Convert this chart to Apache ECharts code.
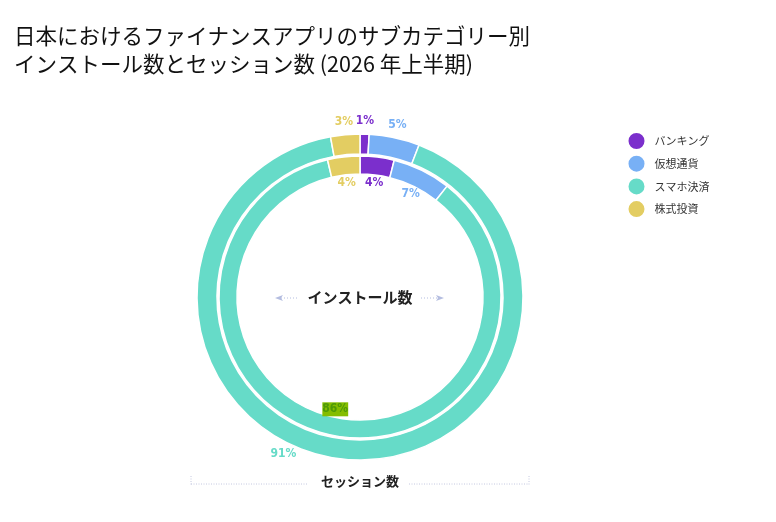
<!DOCTYPE html>
<html style="height: 100%">
<head>
    <meta charset="utf-8">
    <script src="https://cdn.jsdelivr.net/npm/echarts@6/dist/echarts.min.js"></script>
</head>
<body style="height: 100%; margin: 0">
    <div id="main" style="width:776px;height:522px;"></div>
    <script type="text/javascript">
        // データ
        var categories = ['バンキング', '仮想通貨', 'スマホ決済', '株式投資'];
        var installs = [3.9, 6.7, 85.7, 3.7];   // 内側リング
        var sessions = [0.9, 5.0, 91.2, 2.9];   // 外側リング
        var colors = ['#7b2fcc', '#78b0f5', '#66dbc8', '#e3cd62'];

        var cx = 360, cy = 297;
        var labelFont = "'DejaVu Sans Condensed', 'Liberation Sans Narrow', sans-serif";

        function toData(vals) {
            return vals.map(function (v, i) {
                return { name: categories[i], value: v, itemStyle: { color: colors[i] } };
            });
        }

        function ghostData(vals, highlight) {
            return vals.map(function (v, i) {
                var lab = { color: colors[i] };
                if (highlight === i) {
                    lab = { color: '#4e9a06', backgroundColor: '#84bd00', padding: [1, 0] };
                }
                return { name: categories[i], value: v, itemStyle: { color: 'transparent' }, label: lab };
            });
        }

        var ringBase = {
            type: 'pie',
            center: [cx, cy],
            startAngle: 90,
            clockwise: true,
            label: { show: false },
            labelLine: { show: false },
            itemStyle: { borderColor: '#fff', borderWidth: 1.5 },
            emphasis: { disabled: true },
            silent: true
        };

        function ghost(radius, vals, highlight) {
            return {
                type: 'pie',
                center: [cx, cy],
                radius: radius,
                startAngle: 90,
                clockwise: true,
                silent: true,
                emphasis: { disabled: true },
                labelLine: { show: false },
                label: {
                    show: true,
                    position: 'inside',
                    fontFamily: labelFont,
                    fontWeight: 'bold',
                    fontSize: 12,
                    formatter: function (p) { return Math.round(p.percent) + '%'; }
                },
                data: ghostData(vals, highlight)
            };
        }

        var myChart = echarts.init(document.getElementById('main'));

        var outerLabels = ghost([165, 181], sessions);
        outerLabels.labelLayout = function (p) {
            // 91% ラベルは下部テキストと重ならないよう左へ
            if (p.dataIndex === 2) return { dx: -60, dy: -18 };
        };

        var option = {
            title: {
                text: '日本におけるファイナンスアプリのサブカテゴリー別\nインストール数とセッション数 (2026 年上半期)',
                left: 9,
                top: 17,
                textStyle: {
                    fontFamily: "'Noto Sans CJK JP', sans-serif",
                    fontSize: 21.5,
                    fontWeight: 'normal',
                    lineHeight: 28,
                    color: '#111'
                }
            },
            legend: {
                orient: 'vertical',
                left: 621.5,
                top: 126,
                icon: 'circle',
                itemWidth: 18,
                itemHeight: 18,
                itemGap: 2.7,
                data: categories,
                textStyle: {
                    fontFamily: "'Noto Sans CJK JP', sans-serif",
                    fontSize: 11,
                    lineHeight: 14,
                    color: '#333',
                    padding: [0, 0, 0, 4]
                }
            },
            series: [
                Object.assign({}, ringBase, { name: 'インストール数', radius: [123, 141], data: toData(installs) }),
                Object.assign({}, ringBase, { name: 'セッション数', radius: [143, 163], data: toData(sessions) }),
                ghost([102, 122], installs, 2),
                outerLabels
            ],
            graphic: [
                {
                    type: 'text', silent: true, position: [cx, cy],
                    style: {
                        text: 'インストール数', x: 0, y: 0, align: 'center', verticalAlign: 'middle',
                        font: "bold 15px 'Noto Sans CJK JP'", fill: '#222'
                    }
                },
                { type: 'line', silent: true, shape: { x1: 281, y1: cy + 1, x2: 298, y2: cy + 1 }, style: { stroke: '#b4bde0', lineWidth: 1, lineDash: [1, 2] } },
                { type: 'polygon', silent: true, shape: { points: [[275, cy + 1], [283, cy - 2], [281, cy + 1], [283, cy + 4]] }, style: { fill: '#b4bde0' } },
                { type: 'line', silent: true, shape: { x1: 421, y1: cy + 1, x2: 438, y2: cy + 1 }, style: { stroke: '#b4bde0', lineWidth: 1, lineDash: [1, 2] } },
                { type: 'polygon', silent: true, shape: { points: [[444, cy + 1], [436, cy - 2], [438, cy + 1], [436, cy + 4]] }, style: { fill: '#b4bde0' } },

                {
                    type: 'text', silent: true, position: [cx, 481],
                    style: {
                        text: 'セッション数', x: 0, y: 0, align: 'center', verticalAlign: 'middle',
                        font: "bold 13px 'Noto Sans CJK JP'", fill: '#222'
                    }
                },
                { type: 'line', silent: true, shape: { x1: 191, y1: 484, x2: 308, y2: 484 }, style: { stroke: '#c4c8e0', lineWidth: 1, lineDash: [1, 1.5] } },
                { type: 'line', silent: true, shape: { x1: 409, y1: 484, x2: 529, y2: 484 }, style: { stroke: '#c4c8e0', lineWidth: 1, lineDash: [1, 1.5] } },
                { type: 'line', silent: true, shape: { x1: 191, y1: 476, x2: 191, y2: 485 }, style: { stroke: '#c4c8e0', lineWidth: 1, lineDash: [1, 1.5] } },
                { type: 'line', silent: true, shape: { x1: 529, y1: 476, x2: 529, y2: 485 }, style: { stroke: '#c4c8e0', lineWidth: 1, lineDash: [1, 1.5] } }
            ]
        };

        myChart.setOption(option);
    </script>
</body>
</html>
